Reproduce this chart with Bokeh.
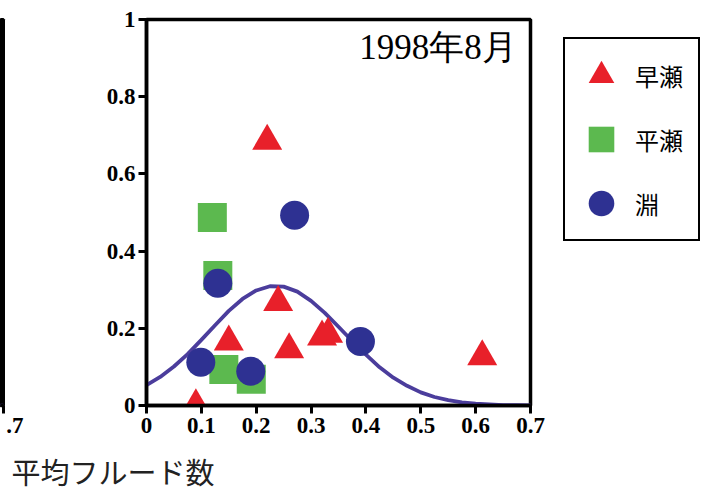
from bokeh.plotting import figure
from bokeh.models import Range1d, FixedTicker, Legend, LegendItem, Label
from bokeh.layouts import row, column
from bokeh.embed import file_html
from bokeh.resources import INLINE

# ---- data ----
x_ticks = [0, 0.1, 0.2, 0.3, 0.4, 0.5, 0.6, 0.7]
x_tick_labels = ["0", "0.1", "0.2", "0.3", "0.4", "0.5", "0.6", "0.7"]
y_ticks = [0, 0.2, 0.4, 0.6, 0.8, 1.0]
y_tick_labels = ["0", "0.2", "0.4", "0.6", "0.8", "1"]
left_panel_tick_labels = [".7"]   # visible part of the neighbouring panel's last tick

series_names = ["早瀬", "平瀬", "淵"]
rapids_x = [0.09, 0.15, 0.22, 0.24, 0.26, 0.32, 0.331, 0.612]
rapids_y = [0.0, 0.165, 0.685, 0.267, 0.145, 0.178, 0.185, 0.127]
riffle_x = [0.12, 0.13, 0.141, 0.191]
riffle_y = [0.487, 0.337, 0.093, 0.068]
pool_x = [0.099, 0.13, 0.19, 0.27, 0.39]
pool_y = [0.112, 0.317, 0.089, 0.493, 0.166]

curve_x = [0, 0.025, 0.05, 0.075, 0.1, 0.125, 0.15, 0.175, 0.2, 0.225, 0.25,
           0.275, 0.3, 0.325, 0.35, 0.375, 0.4, 0.425, 0.45, 0.475, 0.5,
           0.525, 0.55, 0.575, 0.6, 0.625, 0.65, 0.675, 0.7]
curve_y = [0.053, 0.074, 0.101, 0.133, 0.170, 0.208, 0.245, 0.276, 0.298, 0.309, 0.308,
           0.295, 0.271, 0.240, 0.204, 0.167, 0.132, 0.099, 0.072, 0.051, 0.034,
           0.022, 0.014, 0.008, 0.005, 0.003, 0.001, 0.001, 0.0]

title_text = "1998年8月"
x_label_text = "平均フルード数"

RED = "#e8202a"
GREEN = "#5cb94f"
NAVY = "#2e3192"
CURVE = "#4b3d9c"
TICK_FONT = "Liberation Serif"

FRAME_H = 386
TOP = 19
BOTTOM = 45


def style_axis(ax, labels, ticks):
    ax.ticker = FixedTicker(ticks=ticks)
    ax.major_label_overrides = {t: l for t, l in zip(ticks, labels)}
    ax.major_label_text_font = TICK_FONT
    ax.major_label_text_font_style = "bold"
    ax.major_label_text_font_size = "23px"
    ax.major_label_text_color = "black"
    ax.axis_line_width = 3.5
    ax.axis_line_color = "black"
    ax.major_tick_line_width = 3
    ax.major_tick_line_color = "black"
    ax.major_tick_out = 8
    ax.major_tick_in = 0
    ax.minor_tick_line_color = None


# ---- left fragment of the neighbouring panel ----
p_left = figure(frame_width=3, frame_height=FRAME_H, output_backend="svg",
                toolbar_location=None, x_range=Range1d(0.695, 0.7),
                y_range=Range1d(0, 1), y_axis_location=None,
                min_border_left=0, min_border_right=57,
                min_border_top=TOP, min_border_bottom=BOTTOM)
p_left.grid.visible = False
p_left.outline_line_color = "black"
p_left.outline_line_width = 3
p_left.background_fill_color = "white"
p_left.border_fill_color = "white"
style_axis(p_left.xaxis[0], left_panel_tick_labels, [0.7])
p_left.xaxis.major_label_standoff = 4
p_left.line(curve_x, curve_y, line_color=CURVE, line_width=3.5)

# ---- main panel ----
p = figure(frame_width=384, frame_height=FRAME_H, output_backend="svg",
           toolbar_location=None, x_range=Range1d(0, 0.7), y_range=Range1d(0, 1),
           min_border_left=86, min_border_right=172,
           min_border_top=TOP, min_border_bottom=BOTTOM)
p.grid.visible = False
p.outline_line_color = "black"
p.outline_line_width = 3.5
p.background_fill_color = "white"
p.border_fill_color = "white"
style_axis(p.xaxis[0], x_tick_labels, x_ticks)
style_axis(p.yaxis[0], y_tick_labels, y_ticks)
p.xaxis.major_label_standoff = 4
p.yaxis.major_label_standoff = 3

p.line(curve_x, curve_y, line_color=CURVE, line_width=3.8)
r_sq = p.scatter(riffle_x, riffle_y, marker="square", size=29,
                 fill_color=GREEN, line_color=None)
r_tri = p.scatter(rapids_x, rapids_y, marker="triangle", size=30,
                  fill_color=RED, line_color=None)
r_cir = p.scatter(pool_x, pool_y, marker="circle", size=29,
                  fill_color=NAVY, line_color=None)

p.add_layout(Label(x=0.675, y=0.927, text=title_text, text_align="right",
                   text_baseline="alphabetic", text_font=TICK_FONT,
                   text_font_size="35px", text_color="black"))

legend = Legend(items=[LegendItem(label=series_names[0], renderers=[r_tri]),
                       LegendItem(label=series_names[1], renderers=[r_sq]),
                       LegendItem(label=series_names[2], renderers=[r_cir])],
                location=(33, 164), glyph_width=64, glyph_height=64,
                spacing=0, padding=4, margin=0, label_standoff=2,
                label_width=59, label_text_font="Noto Sans CJK JP",
                label_text_font_size="24px", label_text_color="black",
                border_line_color="black", border_line_width=2,
                border_line_alpha=1.0,
                background_fill_color="white", background_fill_alpha=1.0)
p.add_layout(legend, "right")

# ---- shared x-axis title ----
p_lab = figure(width=702, height=41, output_backend="svg", toolbar_location=None,
               x_axis_location=None, y_axis_location=None, min_border=0)
p_lab.outline_line_color = None
p_lab.grid.visible = False
p_lab.title.text = x_label_text
p_lab.title.text_font = "Noto Sans CJK JP"
p_lab.title.text_font_size = "29px"
p_lab.title.text_font_style = "normal"
p_lab.title.text_color = "#222222"
p_lab.title.align = "left"
p_lab.title.offset = 11
p_lab.title.standoff = 0

layout = column(row(p_left, p), p_lab)
open("out.html", "w").write(file_html(layout, INLINE))
